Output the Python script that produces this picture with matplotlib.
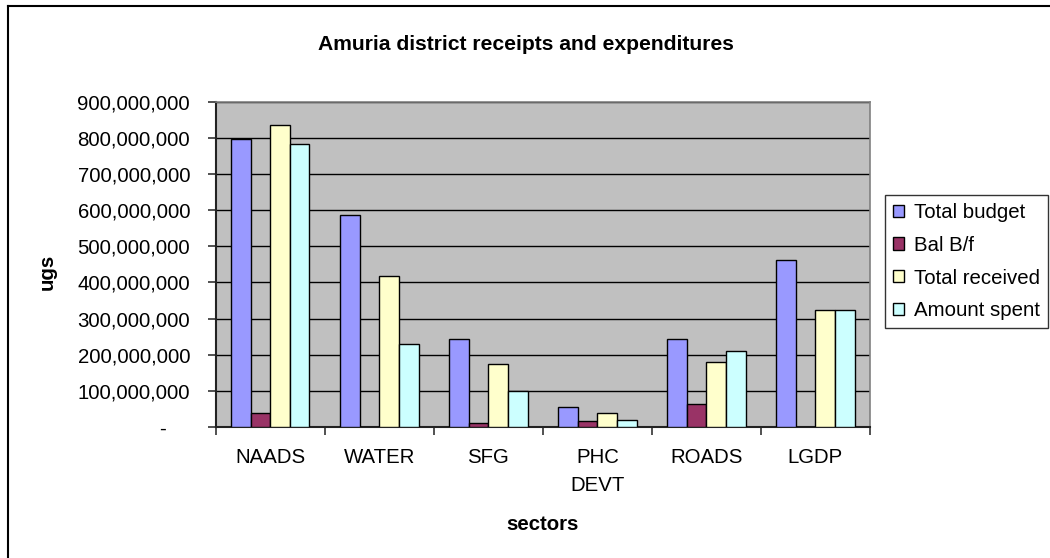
import matplotlib
matplotlib.use("Agg")
import matplotlib.pyplot as plt
import numpy as np
from matplotlib.lines import Line2D
from matplotlib.ticker import FuncFormatter, FixedLocator
import matplotlib.transforms as mtransforms

plt.rcParams['font.family'] = ['Liberation Sans', 'DejaVu Sans']

categories = ["NAADS", "WATER", "SFG", "PHC\nDEVT", "ROADS", "LGDP"]
series_names = ["Total budget", "Bal B/f", "Total received", "Amount spent"]
total_budget = [796e6, 587e6, 243e6, 55e6, 243e6, 463e6]
bal_bf = [40e6, 0, 10e6, 16e6, 64e6, 0]
total_received = [835e6, 419e6, 175e6, 40e6, 180e6, 323e6]
amount_spent = [784e6, 231e6, 99e6, 19e6, 211e6, 323e6]
colors = ["#9999FF", "#993366", "#FFFFCC", "#CCFFFF"]
yticks = np.arange(0, 900e6 + 1, 100e6)

W, H = 1050, 558
fig = plt.figure(figsize=(W / 100, H / 100), dpi=100)
left, right, top, bottom = 215.7, 870, 101.7, 427
ax = fig.add_axes([left / W, 1 - bottom / H, (right - left) / W, (bottom - top) / H])
ax.set_facecolor("#C0C0C0")

x = np.arange(len(categories))
bw = 0.18
data = [total_budget, bal_bf, total_received, amount_spent]
for j, (name, vals, c) in enumerate(zip(series_names, data, colors)):
    ax.bar(x + (j - 1.5) * bw, vals, width=bw, color=c, edgecolor="black",
           linewidth=1.0, label=name, zorder=3)

ax.set_xlim(-0.5, len(categories) - 0.5)
ax.set_ylim(0, 900e6)
ax.set_yticks(yticks)
ax.yaxis.set_major_formatter(FuncFormatter(lambda v, p: "-" if v == 0 else f"{v:,.0f}"))
ax.grid(axis="y", color="black", linewidth=1.0, zorder=1)
ax.set_axisbelow(True)

# x ticks at category boundaries, labels at centers
ax.xaxis.set_major_locator(FixedLocator(np.arange(-0.5, len(categories), 1.0)))
ax.xaxis.set_major_formatter(FuncFormatter(lambda v, p: ""))
ax.xaxis.set_minor_locator(FixedLocator(x))
ax.set_xticks(x, categories, minor=True)
ax.tick_params(axis="x", which="major", direction="out", length=6, width=1.2, color="#333333")
ax.tick_params(axis="x", which="minor", length=0, pad=15, labelsize=14.7)
ax.tick_params(axis="y", direction="out", length=5.5, width=1.2, color="#333333",
               pad=13, labelsize=14.7)
for lab in ax.get_xticklabels(minor=True):
    lab.set_linespacing(1.6)

# shift the zero "-" label left
zero_lab = ax.get_yticklabels()[0]
off = mtransforms.ScaledTranslation(-24 / 100, 0, fig.dpi_scale_trans)
zero_lab.set_transform(zero_lab.get_transform() + off)

for s in ["left", "bottom"]:
    ax.spines[s].set_color("#222222")
    ax.spines[s].set_linewidth(1.5)
for s in ["top", "right"]:
    ax.spines[s].set_color("#808080")
    ax.spines[s].set_linewidth(1.2)

leg = ax.legend(loc="upper left", bbox_to_anchor=(885 / W, 1 - 195 / H),
                bbox_transform=fig.transFigure, fontsize=14.7, frameon=True,
                fancybox=False, edgecolor="black", handlelength=0.55, handleheight=0.55,
                handletextpad=0.45, labelspacing=0.67, borderpad=0.4, borderaxespad=0)
leg.get_frame().set_linewidth(1.0)

fig.text(525.5 / W, 1 - 45 / H, "Amuria district receipts and expenditures",
         ha="center", va="center", fontsize=15.2, fontweight="bold")
fig.text(47 / W, 1 - 272 / H, "ugs", ha="center", va="center", rotation=90,
         fontsize=14.7, fontweight="bold")
fig.text(542.9 / W, 1 - 524 / H, "sectors", ha="center", va="center",
         fontsize=14.7, fontweight="bold")

# chart area border (only left and top visible)
fig.add_artist(Line2D([8 / W, 8 / W], [0, 1 - 6 / H], transform=fig.transFigure,
                      color="black", linewidth=1.5))
fig.add_artist(Line2D([8 / W, 1], [1 - 6 / H, 1 - 6 / H], transform=fig.transFigure,
                      color="black", linewidth=1.5))

fig.savefig("out.png", dpi=100)
